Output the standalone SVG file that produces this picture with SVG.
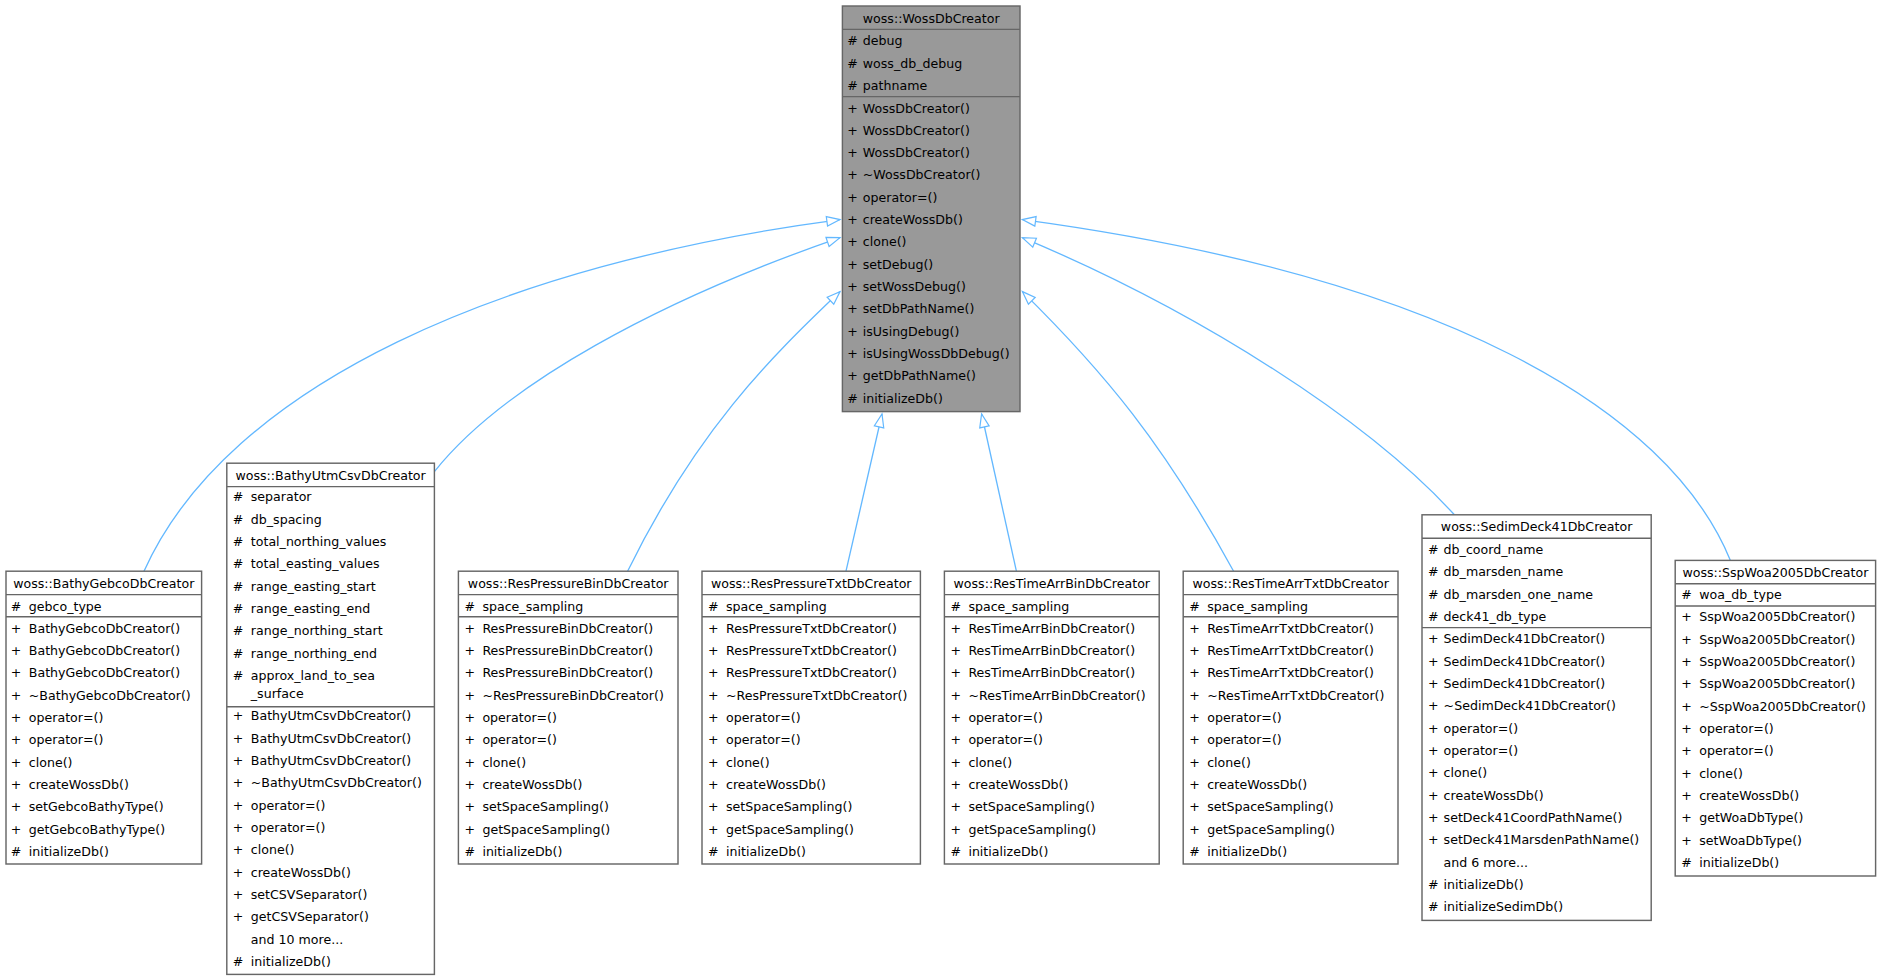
<svg xmlns="http://www.w3.org/2000/svg" width="1880" height="980" viewBox="0 0 1880 980">
<style>
.bx{fill:#fff;stroke:#666;stroke-width:1.2}
.base{fill:#999;stroke:#666;stroke-width:1.2}
.sep{stroke:#666;stroke-width:1.2}
text{font-family:"DejaVu Sans",sans-serif;font-size:10.5px;fill:#000;dominant-baseline:central}
.t{text-anchor:middle}
.e{fill:none;stroke:#63b8ff;stroke-width:1.1}
</style>
<defs>
<marker id="tri" markerUnits="userSpaceOnUse" markerWidth="14" markerHeight="12" refX="12" refY="5" orient="auto" viewBox="0 0 14 10">
<path d="M1,1 L12,5 L1,9 Z" fill="#fff" stroke="#63b8ff" stroke-width="1"/>
</marker>
</defs>
<rect width="1880" height="980" fill="#fff"/>
<g transform="scale(1.2)">
<g id="edges">
<path class="e" marker-end="url(#tri)" d="M120,476 C190,320 420,220 700,183"/>
<path class="e" marker-end="url(#tri)" d="M362,393 C420,320 550,250 700,198"/>
<path class="e" marker-end="url(#tri)" d="M523,476 C580,360 640,300 700,243"/>
<path class="e" marker-end="url(#tri)" d="M705,476 L735,345"/>
<path class="e" marker-end="url(#tri)" d="M847,476 L818,345"/>
<path class="e" marker-end="url(#tri)" d="M1028,476 C970,370 920,310 852,243"/>
<path class="e" marker-end="url(#tri)" d="M1212,429 C1140,350 1000,260 852,198"/>
<path class="e" marker-end="url(#tri)" d="M1442,467 C1390,340 1200,230 852,183"/>
</g>
<g id="WossDbCreator">
<rect class="base" x="702" y="5" width="148" height="338"/>
<line class="sep" x1="702" y1="24.5" x2="850" y2="24.5"/>
<line class="sep" x1="702" y1="80.5" x2="850" y2="80.5"/>
<text class="t" x="776" y="15">woss::WossDbCreator</text>
<text x="706" y="34"># </text><text x="719" y="34">debug</text>
<text x="706" y="52.6"># </text><text x="719" y="52.6">woss_db_debug</text>
<text x="706" y="71.2"># </text><text x="719" y="71.2">pathname</text>
<text x="706" y="90">+</text><text x="719" y="90">WossDbCreator()</text>
<text x="706" y="108.6">+</text><text x="719" y="108.6">WossDbCreator()</text>
<text x="706" y="127.2">+</text><text x="719" y="127.2">WossDbCreator()</text>
<text x="706" y="145.8">+</text><text x="719" y="145.8">~WossDbCreator()</text>
<text x="706" y="164.4">+</text><text x="719" y="164.4">operator=()</text>
<text x="706" y="183">+</text><text x="719" y="183">createWossDb()</text>
<text x="706" y="201.6">+</text><text x="719" y="201.6">clone()</text>
<text x="706" y="220.2">+</text><text x="719" y="220.2">setDebug()</text>
<text x="706" y="238.8">+</text><text x="719" y="238.8">setWossDebug()</text>
<text x="706" y="257.4">+</text><text x="719" y="257.4">setDbPathName()</text>
<text x="706" y="276">+</text><text x="719" y="276">isUsingDebug()</text>
<text x="706" y="294.6">+</text><text x="719" y="294.6">isUsingWossDbDebug()</text>
<text x="706" y="313.2">+</text><text x="719" y="313.2">getDbPathName()</text>
<text x="706" y="331.8">#</text><text x="719" y="331.8">initializeDb()</text>
</g>
<g id="BathyGebcoDbCreator">
<rect class="bx" x="5" y="476" width="163" height="244"/>
<line class="sep" x1="5" y1="495.5" x2="168" y2="495.5"/>
<line class="sep" x1="5" y1="514" x2="168" y2="514"/>
<text class="t" x="86.5" y="486">woss::BathyGebcoDbCreator</text>
<text x="9" y="505">#</text><text x="24" y="505">gebco_type</text>
<text x="9" y="523.6">+</text><text x="24" y="523.6">BathyGebcoDbCreator()</text>
<text x="9" y="542.2">+</text><text x="24" y="542.2">BathyGebcoDbCreator()</text>
<text x="9" y="560.8">+</text><text x="24" y="560.8">BathyGebcoDbCreator()</text>
<text x="9" y="579.4">+</text><text x="24" y="579.4">~BathyGebcoDbCreator()</text>
<text x="9" y="598">+</text><text x="24" y="598">operator=()</text>
<text x="9" y="616.6">+</text><text x="24" y="616.6">operator=()</text>
<text x="9" y="635.2">+</text><text x="24" y="635.2">clone()</text>
<text x="9" y="653.8">+</text><text x="24" y="653.8">createWossDb()</text>
<text x="9" y="672.4">+</text><text x="24" y="672.4">setGebcoBathyType()</text>
<text x="9" y="691">+</text><text x="24" y="691">getGebcoBathyType()</text>
<text x="9" y="709.6">#</text><text x="24" y="709.6">initializeDb()</text>
</g>
<g id="BathyUtmCsvDbCreator">
<rect class="bx" x="189" y="386" width="173" height="426"/>
<line class="sep" x1="189" y1="405.5" x2="362" y2="405.5"/>
<line class="sep" x1="189" y1="589" x2="362" y2="589"/>
<text class="t" x="275.5" y="396">woss::BathyUtmCsvDbCreator</text>
<text x="194" y="414">#</text><text x="209" y="414">separator</text>
<text x="194" y="432.6">#</text><text x="209" y="432.6">db_spacing</text>
<text x="194" y="451.2">#</text><text x="209" y="451.2">total_northing_values</text>
<text x="194" y="469.8">#</text><text x="209" y="469.8">total_easting_values</text>
<text x="194" y="488.4">#</text><text x="209" y="488.4">range_easting_start</text>
<text x="194" y="507">#</text><text x="209" y="507">range_easting_end</text>
<text x="194" y="525.6">#</text><text x="209" y="525.6">range_northing_start</text>
<text x="194" y="544.2">#</text><text x="209" y="544.2">range_northing_end</text>
<text x="194" y="562.8">#</text><text x="209" y="562.8">approx_land_to_sea</text>
<text x="209" y="578">_surface</text>
<text x="194" y="596.5">+</text><text x="209" y="596.5">BathyUtmCsvDbCreator()</text>
<text x="194" y="615.1">+</text><text x="209" y="615.1">BathyUtmCsvDbCreator()</text>
<text x="194" y="633.7">+</text><text x="209" y="633.7">BathyUtmCsvDbCreator()</text>
<text x="194" y="652.3">+</text><text x="209" y="652.3">~BathyUtmCsvDbCreator()</text>
<text x="194" y="670.9">+</text><text x="209" y="670.9">operator=()</text>
<text x="194" y="689.5">+</text><text x="209" y="689.5">operator=()</text>
<text x="194" y="708.1">+</text><text x="209" y="708.1">clone()</text>
<text x="194" y="726.7">+</text><text x="209" y="726.7">createWossDb()</text>
<text x="194" y="745.3">+</text><text x="209" y="745.3">setCSVSeparator()</text>
<text x="194" y="763.9">+</text><text x="209" y="763.9">getCSVSeparator()</text>
<text x="209" y="782.5">and 10 more...</text>
<text x="194" y="801.1">#</text><text x="209" y="801.1">initializeDb()</text>
</g>
<g id="ResPressureBinDbCreator">
<rect class="bx" x="382" y="476" width="183" height="244"/>
<line class="sep" x1="382" y1="495.5" x2="565" y2="495.5"/>
<line class="sep" x1="382" y1="514" x2="565" y2="514"/>
<text class="t" x="473.5" y="486">woss::ResPressureBinDbCreator</text>
<text x="387" y="505">#</text><text x="402" y="505">space_sampling</text>
<text x="387" y="523.6">+</text><text x="402" y="523.6">ResPressureBinDbCreator()</text>
<text x="387" y="542.2">+</text><text x="402" y="542.2">ResPressureBinDbCreator()</text>
<text x="387" y="560.8">+</text><text x="402" y="560.8">ResPressureBinDbCreator()</text>
<text x="387" y="579.4">+</text><text x="402" y="579.4">~ResPressureBinDbCreator()</text>
<text x="387" y="598">+</text><text x="402" y="598">operator=()</text>
<text x="387" y="616.6">+</text><text x="402" y="616.6">operator=()</text>
<text x="387" y="635.2">+</text><text x="402" y="635.2">clone()</text>
<text x="387" y="653.8">+</text><text x="402" y="653.8">createWossDb()</text>
<text x="387" y="672.4">+</text><text x="402" y="672.4">setSpaceSampling()</text>
<text x="387" y="691">+</text><text x="402" y="691">getSpaceSampling()</text>
<text x="387" y="709.6">#</text><text x="402" y="709.6">initializeDb()</text>
</g>
<g id="ResPressureTxtDbCreator">
<rect class="bx" x="585" y="476" width="182" height="244"/>
<line class="sep" x1="585" y1="495.5" x2="767" y2="495.5"/>
<line class="sep" x1="585" y1="514" x2="767" y2="514"/>
<text class="t" x="676" y="486">woss::ResPressureTxtDbCreator</text>
<text x="590" y="505">#</text><text x="605" y="505">space_sampling</text>
<text x="590" y="523.6">+</text><text x="605" y="523.6">ResPressureTxtDbCreator()</text>
<text x="590" y="542.2">+</text><text x="605" y="542.2">ResPressureTxtDbCreator()</text>
<text x="590" y="560.8">+</text><text x="605" y="560.8">ResPressureTxtDbCreator()</text>
<text x="590" y="579.4">+</text><text x="605" y="579.4">~ResPressureTxtDbCreator()</text>
<text x="590" y="598">+</text><text x="605" y="598">operator=()</text>
<text x="590" y="616.6">+</text><text x="605" y="616.6">operator=()</text>
<text x="590" y="635.2">+</text><text x="605" y="635.2">clone()</text>
<text x="590" y="653.8">+</text><text x="605" y="653.8">createWossDb()</text>
<text x="590" y="672.4">+</text><text x="605" y="672.4">setSpaceSampling()</text>
<text x="590" y="691">+</text><text x="605" y="691">getSpaceSampling()</text>
<text x="590" y="709.6">#</text><text x="605" y="709.6">initializeDb()</text>
</g>
<g id="ResTimeArrBinDbCreator">
<rect class="bx" x="787" y="476" width="179" height="244"/>
<line class="sep" x1="787" y1="495.5" x2="966" y2="495.5"/>
<line class="sep" x1="787" y1="514" x2="966" y2="514"/>
<text class="t" x="876.5" y="486">woss::ResTimeArrBinDbCreator</text>
<text x="792" y="505">#</text><text x="807" y="505">space_sampling</text>
<text x="792" y="523.6">+</text><text x="807" y="523.6">ResTimeArrBinDbCreator()</text>
<text x="792" y="542.2">+</text><text x="807" y="542.2">ResTimeArrBinDbCreator()</text>
<text x="792" y="560.8">+</text><text x="807" y="560.8">ResTimeArrBinDbCreator()</text>
<text x="792" y="579.4">+</text><text x="807" y="579.4">~ResTimeArrBinDbCreator()</text>
<text x="792" y="598">+</text><text x="807" y="598">operator=()</text>
<text x="792" y="616.6">+</text><text x="807" y="616.6">operator=()</text>
<text x="792" y="635.2">+</text><text x="807" y="635.2">clone()</text>
<text x="792" y="653.8">+</text><text x="807" y="653.8">createWossDb()</text>
<text x="792" y="672.4">+</text><text x="807" y="672.4">setSpaceSampling()</text>
<text x="792" y="691">+</text><text x="807" y="691">getSpaceSampling()</text>
<text x="792" y="709.6">#</text><text x="807" y="709.6">initializeDb()</text>
</g>
<g id="ResTimeArrTxtDbCreator">
<rect class="bx" x="986" y="476" width="179" height="244"/>
<line class="sep" x1="986" y1="495.5" x2="1165" y2="495.5"/>
<line class="sep" x1="986" y1="514" x2="1165" y2="514"/>
<text class="t" x="1075.5" y="486">woss::ResTimeArrTxtDbCreator</text>
<text x="991" y="505">#</text><text x="1006" y="505">space_sampling</text>
<text x="991" y="523.6">+</text><text x="1006" y="523.6">ResTimeArrTxtDbCreator()</text>
<text x="991" y="542.2">+</text><text x="1006" y="542.2">ResTimeArrTxtDbCreator()</text>
<text x="991" y="560.8">+</text><text x="1006" y="560.8">ResTimeArrTxtDbCreator()</text>
<text x="991" y="579.4">+</text><text x="1006" y="579.4">~ResTimeArrTxtDbCreator()</text>
<text x="991" y="598">+</text><text x="1006" y="598">operator=()</text>
<text x="991" y="616.6">+</text><text x="1006" y="616.6">operator=()</text>
<text x="991" y="635.2">+</text><text x="1006" y="635.2">clone()</text>
<text x="991" y="653.8">+</text><text x="1006" y="653.8">createWossDb()</text>
<text x="991" y="672.4">+</text><text x="1006" y="672.4">setSpaceSampling()</text>
<text x="991" y="691">+</text><text x="1006" y="691">getSpaceSampling()</text>
<text x="991" y="709.6">#</text><text x="1006" y="709.6">initializeDb()</text>
</g>
<g id="SedimDeck41DbCreator">
<rect class="bx" x="1185" y="429" width="191" height="338"/>
<line class="sep" x1="1185" y1="448.5" x2="1376" y2="448.5"/>
<line class="sep" x1="1185" y1="523" x2="1376" y2="523"/>
<text class="t" x="1280.5" y="439">woss::SedimDeck41DbCreator</text>
<text x="1190" y="458">#</text><text x="1203" y="458">db_coord_name</text>
<text x="1190" y="476.6">#</text><text x="1203" y="476.6">db_marsden_name</text>
<text x="1190" y="495.2">#</text><text x="1203" y="495.2">db_marsden_one_name</text>
<text x="1190" y="513.8">#</text><text x="1203" y="513.8">deck41_db_type</text>
<text x="1190" y="532.4">+</text><text x="1203" y="532.4">SedimDeck41DbCreator()</text>
<text x="1190" y="551">+</text><text x="1203" y="551">SedimDeck41DbCreator()</text>
<text x="1190" y="569.6">+</text><text x="1203" y="569.6">SedimDeck41DbCreator()</text>
<text x="1190" y="588.2">+</text><text x="1203" y="588.2">~SedimDeck41DbCreator()</text>
<text x="1190" y="606.8">+</text><text x="1203" y="606.8">operator=()</text>
<text x="1190" y="625.4">+</text><text x="1203" y="625.4">operator=()</text>
<text x="1190" y="644">+</text><text x="1203" y="644">clone()</text>
<text x="1190" y="662.6">+</text><text x="1203" y="662.6">createWossDb()</text>
<text x="1190" y="681.2">+</text><text x="1203" y="681.2">setDeck41CoordPathName()</text>
<text x="1190" y="699.8">+</text><text x="1203" y="699.8">setDeck41MarsdenPathName()</text>
<text x="1203" y="718.4">and 6 more...</text>
<text x="1190" y="737">#</text><text x="1203" y="737">initializeDb()</text>
<text x="1190" y="755.6">#</text><text x="1203" y="755.6">initializeSedimDb()</text>
</g>
<g id="SspWoa2005DbCreator">
<rect class="bx" x="1396" y="467" width="167" height="263"/>
<line class="sep" x1="1396" y1="486.5" x2="1563" y2="486.5"/>
<line class="sep" x1="1396" y1="505" x2="1563" y2="505"/>
<text class="t" x="1479.5" y="477">woss::SspWoa2005DbCreator</text>
<text x="1401" y="495.5">#</text><text x="1416" y="495.5">woa_db_type</text>
<text x="1401" y="514">+</text><text x="1416" y="514">SspWoa2005DbCreator()</text>
<text x="1401" y="532.6">+</text><text x="1416" y="532.6">SspWoa2005DbCreator()</text>
<text x="1401" y="551.2">+</text><text x="1416" y="551.2">SspWoa2005DbCreator()</text>
<text x="1401" y="569.8">+</text><text x="1416" y="569.8">SspWoa2005DbCreator()</text>
<text x="1401" y="588.4">+</text><text x="1416" y="588.4">~SspWoa2005DbCreator()</text>
<text x="1401" y="607">+</text><text x="1416" y="607">operator=()</text>
<text x="1401" y="625.6">+</text><text x="1416" y="625.6">operator=()</text>
<text x="1401" y="644.2">+</text><text x="1416" y="644.2">clone()</text>
<text x="1401" y="662.8">+</text><text x="1416" y="662.8">createWossDb()</text>
<text x="1401" y="681.4">+</text><text x="1416" y="681.4">getWoaDbType()</text>
<text x="1401" y="700">+</text><text x="1416" y="700">setWoaDbType()</text>
<text x="1401" y="718.6">#</text><text x="1416" y="718.6">initializeDb()</text>
</g>
</g>
</svg>
